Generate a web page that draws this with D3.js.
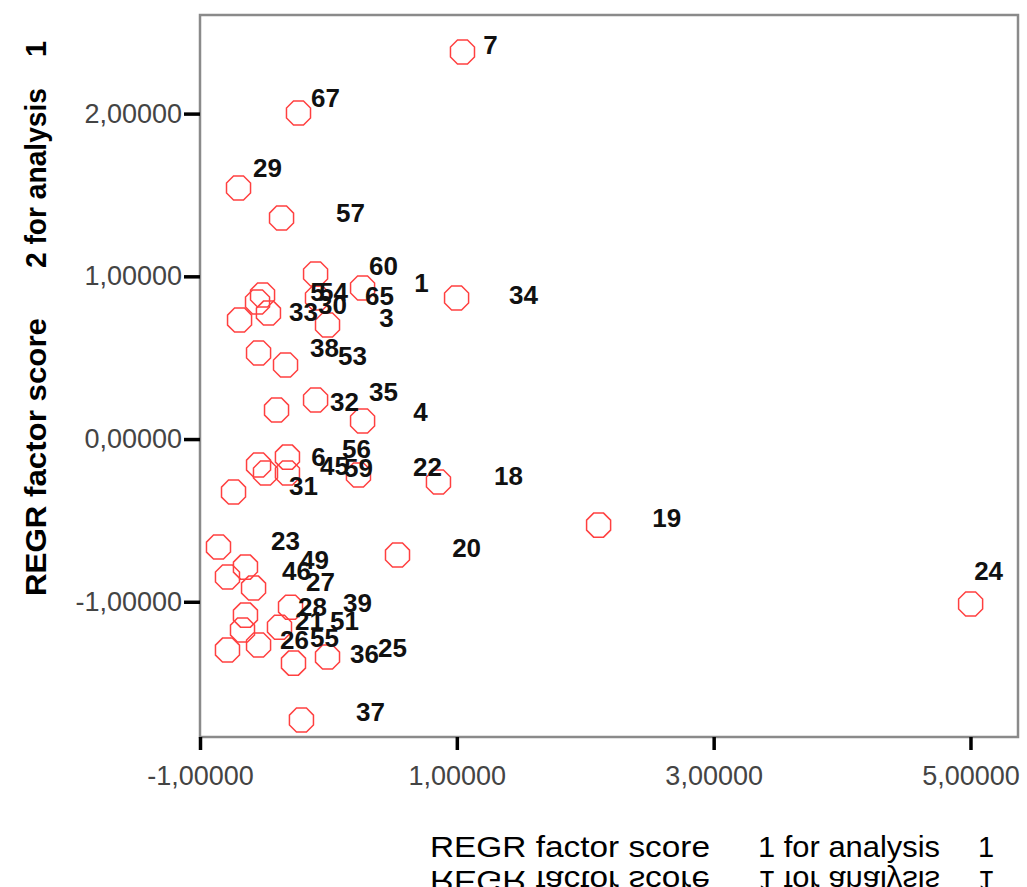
<!DOCTYPE html>
<html>
<head>
<meta charset="utf-8">
<script src="https://cdn.jsdelivr.net/npm/d3@7"></script>
<style>
  body { margin: 0; background: #fff; }
  svg { display: block; }
</style>
</head>
<body>
<div class="d3-container"></div>
<script>
// factor scores (one circle per case)
const scoreX = [1.044, -0.233, -0.700, -0.365, -0.100, -0.513, -0.552, -0.467, -0.692, 0.266,
                -0.085, 0.998, -0.007, -0.544, -0.334, -0.100, -0.404, 0.266, -0.319, -0.544,
                -0.490, -0.319, -0.739, 0.234, 0.857, -0.856, 0.538, 2.104, -0.646, -0.786,
                -0.583, -0.295, -0.646, -0.669, -0.381, -0.544, -0.786, -0.272, -0.007, -0.210,
                5.001];
const scoreY = [2.379, 2.004, 1.543, 1.358, 1.014, 0.885, 0.842, 0.774, 0.731, 0.928,
                0.867, 0.867, 0.701, 0.529, 0.455, 0.240, 0.178, 0.111, -0.111, -0.160,
                -0.209, -0.209, -0.326, -0.221, -0.264, -0.664, -0.713, -0.529, -0.787, -0.848,
                -0.916, -1.033, -1.082, -1.174, -1.156, -1.266, -1.297, -1.377, -1.340, -1.727,
                -1.014];

// case number labels, where SPSS put them (data units)
const caseIds = ["7", "67", "29", "57", "60", "1", "34", "5", "54", "65",
                 "33", "30", "3", "38", "53", "35", "32", "4", "56", "6",
                 "45", "59", "22", "18", "31", "19", "23", "49", "46", "27",
                 "20", "24", "28", "39", "21", "51", "26", "55", "36", "25", "37"];
const labelX = [1.262, -0.023, -0.474, 0.172, 0.429, 0.725, 1.519, -0.085, 0.040, 0.398,
                -0.194, 0.032, 0.452, -0.030, 0.188, 0.429, 0.125, 0.717, 0.219, -0.077,
                0.047, 0.234, 0.772, 1.403, -0.194, 2.634, -0.334, -0.108, -0.248, -0.062,
                1.076, 5.141, -0.124, 0.227, -0.147, 0.125, -0.264, -0.030, 0.281, 0.499, 0.328];
const labelY = [2.422, 2.096, 1.666, 1.389, 1.063, 0.959, 0.885, 0.904, 0.904, 0.879,
                0.781, 0.824, 0.744, 0.559, 0.510, 0.289, 0.227, 0.166, -0.061, -0.111,
                -0.166, -0.178, -0.172, -0.227, -0.289, -0.486, -0.627, -0.744, -0.811, -0.879,
                -0.670, -0.811, -1.033, -1.008, -1.119, -1.119, -1.235, -1.223, -1.321, -1.285, -1.678];

const xTicks = [-1, 1, 3, 5];
const yTicks = [-1, 0, 1, 2];

const width = 1027;
const height = 887;
const margin = {top: 15, bottom: 150, left: 200, right: 9};

const points = scoreX.map((d, i) => ({x: d, y: scoreY[i]}));
const labels = caseIds.map((d, i) => ({id: d, x: labelX[i], y: labelY[i]}));

const svg = d3.select(".d3-container")
  .append("svg")
  .attr("width", width)
  .attr("height", height)
  .attr("viewBox", [0, 0, width, height]);

const x = d3.scaleLinear()
  .domain([-1, 5.37])
  .range([margin.left, width - margin.right]);

const y = d3.scaleLinear()
  .domain([-1.831, 2.606])
  .range([height - margin.bottom, margin.top]);

// SPSS style numbers: comma decimal, plain hyphen
const fmt = d3.formatLocale({decimal: ",", thousands: ".", grouping: [3], currency: ["", ""], minus: "-"})
  .format(".5f");

// frame
svg.append("rect")
  .attr("x", x.range()[0])
  .attr("y", y.range()[1])
  .attr("width", x.range()[1] - x.range()[0])
  .attr("height", y.range()[0] - y.range()[1])
  .attr("fill", "none")
  .attr("stroke", "#8a8a8a")
  .attr("stroke-width", 2.5);

function xAxis(g) {
  g.attr("transform", `translate(0, ${y.range()[0]})`)
    .call(d3.axisBottom(x).tickValues(xTicks).tickFormat(fmt).tickSize(13).tickPadding(16))
  g.select(".domain").remove();
  g.selectAll(".tick line").attr("stroke", "#000").attr("stroke-width", 3.5);
  g.selectAll(".tick text")
    .attr("fill", "#444")
    .attr("font-family", "Liberation Sans, Arial, sans-serif")
    .attr("font-size", 27);
}

function yAxis(g) {
  g.attr("transform", `translate(${x.range()[0]}, 0)`)
    .call(d3.axisLeft(y).tickValues(yTicks).tickFormat(fmt).tickSize(16).tickPadding(2))
  g.select(".domain").remove();
  g.selectAll(".tick line").attr("stroke", "#000").attr("stroke-width", 3.5);
  g.selectAll(".tick text")
    .attr("fill", "#444")
    .attr("font-family", "Liberation Sans, Arial, sans-serif")
    .attr("font-size", 27);
}

svg.append("g").call(xAxis);
svg.append("g").call(yAxis);

// octagon markers
const r = 13;
const octagon = d3.range(8).map(k => {
  const a = Math.PI / 8 + k * Math.PI / 4;
  return [r * Math.cos(a), r * Math.sin(a)];
});

svg.append("g")
  .attr("fill", "none")
  .attr("stroke", "#ff4040")
  .attr("stroke-width", 1.5)
  .selectAll("path")
  .data(points)
  .join("path")
  .attr("transform", d => `translate(${x(d.x)}, ${y(d.y)})`)
  .attr("d", "M" + octagon.join("L") + "Z");

svg.append("g")
  .attr("font-family", "Liberation Sans, Arial, sans-serif")
  .attr("font-size", 26)
  .attr("font-weight", "bold")
  .attr("fill", "#111")
  .attr("text-anchor", "middle")
  .attr("dominant-baseline", "central")
  .selectAll("text")
  .data(labels)
  .join("text")
  .attr("x", d => x(d.x))
  .attr("y", d => y(d.y))
  .text(d => d.id);

// axis titles, split like the SPSS output
function xTitle(g) {
  g.attr("font-family", "Liberation Sans, Arial, sans-serif")
    .attr("font-size", 29)
    .attr("fill", "#000");
  g.append("text").attr("x", 430).attr("y", 857)
    .attr("textLength", 280).attr("lengthAdjust", "spacingAndGlyphs")
    .text("REGR factor score");
  g.append("text").attr("x", 758).attr("y", 857)
    .attr("textLength", 182).attr("lengthAdjust", "spacingAndGlyphs")
    .text("1 for analysis");
  g.append("text").attr("x", 978).attr("y", 857).text("1");
}

svg.append("g").call(xTitle);

// mirrored copy cut off by the bottom edge
svg.append("g")
  .attr("transform", `translate(0, ${2 * 864}) scale(1, -1)`)
  .call(xTitle);

const yt = svg.append("g")
  .attr("transform", "translate(46, 0) rotate(-90)")
  .attr("font-family", "Liberation Sans, Arial, sans-serif")
  .attr("font-size", 29)
  .attr("font-weight", "bold")
  .attr("fill", "#000");
yt.append("text").attr("x", -596).attr("y", 0)
  .attr("textLength", 278).attr("lengthAdjust", "spacingAndGlyphs")
  .text("REGR factor score");
yt.append("text").attr("x", -268).attr("y", 0)
  .attr("textLength", 180).attr("lengthAdjust", "spacingAndGlyphs")
  .text("2 for analysis");
yt.append("text").attr("x", -57).attr("y", 0).text("1");

svg.node();
</script>
</body>
</html>
